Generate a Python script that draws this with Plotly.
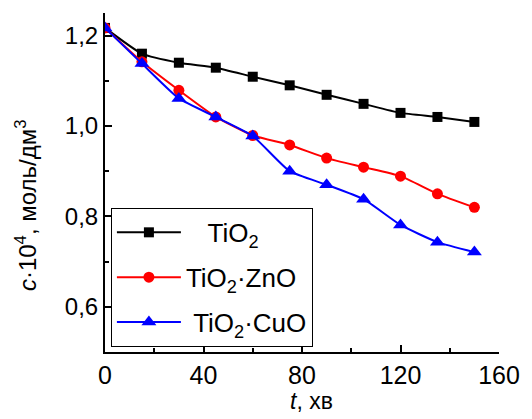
import plotly.graph_objects as go

t = [0, 15, 30, 45, 60, 75, 90, 105, 120, 135, 150]
tio2 = [1.217, 1.160, 1.140, 1.129, 1.109, 1.090, 1.069, 1.049, 1.029, 1.020, 1.009]
tio2_zno = [1.217, 1.142, 1.079, 1.020, 0.979, 0.958, 0.929, 0.909, 0.889, 0.850, 0.820]
tio2_cuo = [1.217, 1.138, 1.061, 1.020, 0.978, 0.900, 0.870, 0.838, 0.781, 0.743, 0.721]

NB = "\u00a0"
names = [NB * 3 + "TiO<sub>2</sub>", "TiO<sub>2</sub>·ZnO", NB + "TiO<sub>2</sub>·CuO"]
series = [tio2, tio2_zno, tio2_cuo]
colors = ["#000000", "#ff0000", "#0000ff"]
symbols = ["square", "circle", "triangle-up"]
sizes = [10, 11, 13]

FONT = "Liberation Sans, Arial, sans-serif"

fig = go.Figure()
for i, (n, y, c, s, sz) in enumerate(zip(names, series, colors, symbols, sizes)):
    fig.add_trace(go.Scatter(
        x=t, y=y, name=n, mode="lines+markers",
        line=dict(color=c, width=2, shape="spline", smoothing=0.5),
        marker=dict(symbol=s, size=sz, color=c),
        legendgroup=f"g{i}",
    ))

fig.update_layout(
    width=532, height=419,
    margin=dict(l=105, r=25, t=13, b=67),
    paper_bgcolor="white", plot_bgcolor="white",
    separators=", ",
    font=dict(family=FONT, size=22, color="black"),
    showlegend=True,
    legend=dict(
        x=0.015, y=0.425, xanchor="left", yanchor="top",
        bgcolor="white", bordercolor="black", borderwidth=1,
        font=dict(family=FONT, size=26, color="black"),
        itemwidth=64, tracegroupgap=8, traceorder="grouped",
    ),
    xaxis=dict(
        range=[0, 160], tickvals=[0, 40, 80, 120, 160],
        showline=True, linecolor="black", linewidth=2, mirror=False,
        ticks="inside", ticklen=7, tickwidth=2, tickcolor="black",
        minor=dict(dtick=20, ticks="inside", ticklen=4, tickwidth=2, tickcolor="black"),
        showgrid=False, zeroline=False,
        tickfont=dict(size=25),
    ),
    yaxis=dict(
        range=[0.5, 1.25], tickvals=[0.6, 0.8, 1.0, 1.2], tickformat=".1f",
        showline=True, linecolor="black", linewidth=2, mirror=False,
        ticks="inside", ticklen=7, tickwidth=2, tickcolor="black",
        minor=dict(dtick=0.1, tick0=0.5, ticks="inside", ticklen=4, tickwidth=2, tickcolor="black"),
        showgrid=False, zeroline=False,
        tickfont=dict(size=24),
    ),
    annotations=[
        dict(text="<i>t</i>, хв", xref="paper", yref="paper", x=0.525, y=-0.19,
             xanchor="center", yanchor="bottom", showarrow=False, font=dict(size=23)),
        dict(text="<i>c</i>·10<sup>4</sup>, моль/дм<sup>3</sup>", xref="paper", yref="paper",
             x=-0.2, y=0.434, xanchor="center", yanchor="middle", textangle=-90,
             showarrow=False, font=dict(size=24)),
    ],
)

fig.write_html("out.html")
